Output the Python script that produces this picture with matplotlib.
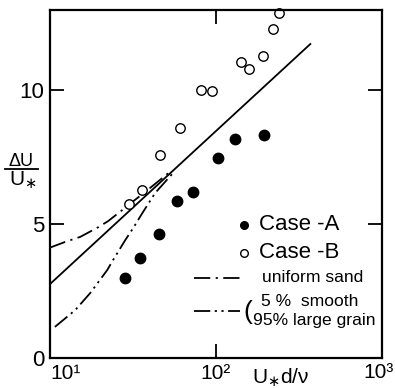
import matplotlib
matplotlib.use("Agg")
import matplotlib.pyplot as plt
import numpy as np

# Data
case_a_x = [28.4, 35, 45.6, 58.5, 73, 103.5, 131, 194]
case_a_y = [2.99, 3.73, 4.63, 5.86, 6.19, 7.46, 8.17, 8.32]

case_b_x = [30, 36, 46, 61, 81.7, 95, 141, 159, 191, 219, 239]
case_b_y = [5.75, 6.27, 7.57, 8.58, 10.0, 9.96, 11.04, 10.78, 11.27, 12.28, 12.87]

# log-law line
solid_x = [10, 370]
solid_y = [2.76, 11.72]

# uniform sand (dash-dot)
uni_x = [10, 12.3, 15.2, 19.5, 22.4, 27.2, 29.5, 37.3, 51.6]
uni_y = [4.12, 4.33, 4.52, 4.88, 5.11, 5.52, 5.70, 6.19, 6.90]

# 5% smooth / 95% large grain (dash-dot-dot)
mix_x = [10.7, 14.2, 17.5, 22.1, 24, 28.4, 31.7, 36, 43, 55]
mix_y = [1.16, 1.79, 2.43, 3.28, 3.66, 4.40, 4.85, 5.41, 6.16, 6.90]

x_ticks = [10, 100, 1000]
x_ticklabels = ["10¹", "10²", "10³"]
y_ticks = [0, 5, 10]
y_ticklabels = ["0", "5", "10"]

plt.rcParams['font.family'] = ['Liberation Sans Narrow', 'Liberation Sans', 'DejaVu Sans']
plt.rcParams['mathtext.fontset'] = 'dejavusans'
fig = plt.figure(figsize=(3.95, 3.88), dpi=100)
ax = fig.add_axes([50/395, 30/388, 332/395, 348/388])

ax.set_xscale('log')
ax.set_xlim(10, 1000)
ax.set_ylim(0, 12.99)

dashdot = (0, (9, 3, 1.2, 3))
dashdotdot = (0, (9, 2.5, 1.2, 2.5, 1.2, 2.5))

ax.plot(solid_x, solid_y, color='black', lw=1.3)
ax.plot(uni_x, uni_y, color='black', lw=1.3, linestyle=dashdot)
ax.plot(mix_x, mix_y, color='black', lw=1.3, linestyle=dashdotdot)

ax.plot(case_a_x, case_a_y, 'o', color='black', markersize=7.5, clip_on=False)
ax.plot(case_b_x, case_b_y, 'o', markerfacecolor='white', markeredgecolor='black',
        markeredgewidth=1.0, markersize=6.8, clip_on=False)

ax.set_xticks(x_ticks)
ax.set_xticklabels(x_ticklabels, fontsize=15)
ax.xaxis.set_minor_locator(matplotlib.ticker.NullLocator())
ax.set_yticks(y_ticks)
ax.set_yticklabels(y_ticklabels, fontsize=16)
ax.tick_params(axis='both', which='major', direction='in', length=10, width=1.3,
               top=True, right=True)
ax.tick_params(axis='x', pad=4)
ax.tick_params(axis='y', pad=4)
lbls = ax.get_xticklabels()
lbls[0].set_horizontalalignment('left')
lbls[-1].set_visible(False)
# last tick label placed flush with the right edge so it stays inside the image
fig.text(394/395, 1 - 363/388, x_ticklabels[-1], fontsize=15, ha='right', va='top')
for s in ax.spines.values():
    s.set_linewidth(1.6)

# axis labels
fig.text(281/395, 1 - 378/388, "U$_{\\ast}$d/ν", fontsize=15, ha='center', va='center')
fig.text(21/395, 1 - 161/388, "ΔU", fontsize=13, ha='center', va='center')
fig.add_artist(matplotlib.lines.Line2D([5/395, 38/395], [1 - 169/388, 1 - 169/388],
                                       color='black', lw=1.3))
fig.text(23/395, 1 - 180/388, "U$_{\\ast}$", fontsize=15, ha='center', va='center')

# legend (manual)
def ax_xy(px, py):
    return ((px - 50) / 332, (358 - py) / 348)

x0, y0 = ax_xy(244, 225)
ax.plot([x0], [y0], 'o', color='black', markersize=5.5, transform=ax.transAxes)
tx, ty = ax_xy(259, 225)
ax.text(tx, ty, "Case -A", fontsize=16, ha='left', va='center', transform=ax.transAxes)
x0, y0 = ax_xy(244, 253)
ax.plot([x0], [y0], 'o', markerfacecolor='white', markeredgecolor='black',
        markeredgewidth=1.0, markersize=5.5, transform=ax.transAxes)
tx, ty = ax_xy(259, 253)
ax.text(tx, ty, "Case -B", fontsize=16, ha='left', va='center', transform=ax.transAxes)

xa, ya = ax_xy(194, 278)
xb, _ = ax_xy(240, 278)
ax.plot([xa, xb], [ya, ya], color='black', lw=1.3, linestyle=dashdot, transform=ax.transAxes)
tx, ty = ax_xy(262, 278)
ax.text(tx, ty, "uniform sand", fontsize=12.6, ha='left', va='center', transform=ax.transAxes)

xa, ya = ax_xy(194, 311)
xb, _ = ax_xy(240, 311)
ax.plot([xa, xb], [ya, ya], color='black', lw=1.3, linestyle=dashdotdot, transform=ax.transAxes)
tx, ty = ax_xy(243, 312)
ax.text(tx, ty, "(", fontsize=19, ha='left', va='center', transform=ax.transAxes)
tx, ty = ax_xy(261, 302)
ax.text(tx, ty, "5 %  smooth", fontsize=12.6, ha='left', va='center', transform=ax.transAxes)
tx, ty = ax_xy(253, 320)
ax.text(tx, ty, "95% large grain", fontsize=12.6, ha='left', va='center', transform=ax.transAxes)

fig.savefig("out.png", dpi=100)
